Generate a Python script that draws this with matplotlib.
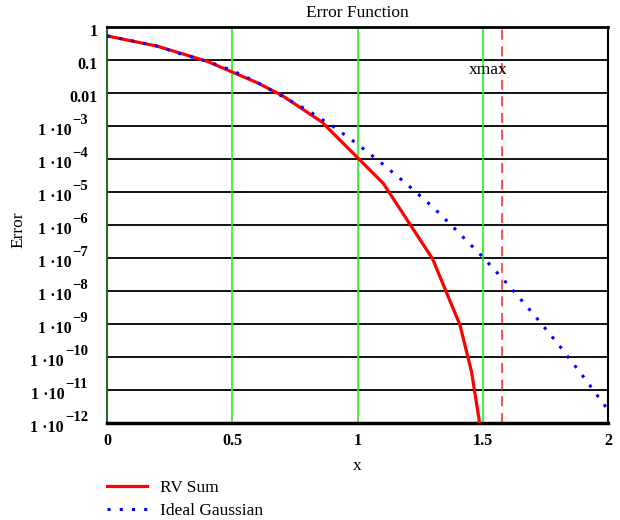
import matplotlib
matplotlib.use("Agg")
import matplotlib.pyplot as plt
import numpy as np

# Data (log10 of error)
rv_x = [0.0, 0.2, 0.4, 0.6, 0.7, 0.858, 1.103, 1.30, 1.409, 1.455, 1.50]
rv_log = [-0.27, -0.58, -1.04, -1.69, -2.08, -2.88, -4.74, -7.03, -9.03, -10.44, -12.6]

g_x = [0.0, 0.1, 0.2, 0.3, 0.4, 0.5, 0.6, 0.7, 0.8, 0.9, 1.0, 1.1, 1.2, 1.3, 1.4,
       1.5, 1.6, 1.7, 1.8, 1.9, 2.0]
g_log = [-0.27, -0.42, -0.58, -0.83, -1.04, -1.32, -1.68, -2.1, -2.52, -3.0, -3.55,
         -4.15, -4.78, -5.45, -6.2, -6.97, -7.8, -8.68, -9.6, -10.58, -11.6]

green_lines = [0.5, 1.0, 1.5]
xmax = 1.575
x_ticks = [0, 0.5, 1, 1.5, 2]
x_tick_labels = ["0", "0.5", "1", "1.5", "2"]
y_exps = list(range(0, -13, -1))
y_plain_labels = {0: "1", -1: "0.1", -2: "0.01"}

plt.rcParams['font.family'] = ['Liberation Serif', 'DejaVu Serif']

fig = plt.figure(figsize=(6.2, 5.2), dpi=100)
ax = fig.add_axes([107/620, 1-423/520, (608-107)/620, (423-27)/520])

ax.set_yscale('log')
ax.set_xlim(0, 2)
ax.set_ylim(1e-12, 1)

for e in y_exps:
    ax.axhline(10.0**e, color='black', lw=1.3, zorder=1)
for gx in green_lines:
    ax.axvline(gx, color='#22ee22', lw=1.2, zorder=1)
ax.axvline(xmax, color='#ff3333', lw=1.2, ls=(0, (6, 4)), zorder=1)
ax.text(1.52, 10**-1.3, "xmax", ha='center', va='center', fontsize=12.5)

ax.plot(rv_x, 10.0**np.array(rv_log), color='#ff0000', lw=2.3, label='RV Sum', zorder=3)
ax.plot(g_x, 10.0**np.array(g_log), color='#0000ff', lw=2.2, ls=(0, (1, 3)),
        label='Ideal Gaussian', zorder=4)

ax.set_xticks(x_ticks)
ax.set_xticklabels(x_tick_labels, fontweight='bold', fontsize=11.5)
ax.set_yticks([])
ax.minorticks_off()
ax.tick_params(axis='both', length=0, pad=7)

renderer = fig.canvas.get_renderer()
for e in y_exps:
    yv = 10.0**e
    if e in y_plain_labels:
        ax.annotate(y_plain_labels[e], xy=(0, yv), xycoords=('axes fraction', 'data'),
                    xytext=(-9, -9), textcoords='offset pixels', ha='right', va='baseline',
                    fontsize=11.5, fontweight='bold', annotation_clip=False)
    else:
        t_exp = ax.annotate("\u2212%d" % (-e), xy=(0, yv), xycoords=('axes fraction', 'data'),
                            xytext=(-19, 2), textcoords='offset pixels', ha='right',
                            va='baseline', fontsize=10.5, fontweight='bold',
                            annotation_clip=False)
        w = t_exp.get_window_extent(renderer).width
        ax.annotate("1 \u00b710", xy=(0, yv), xycoords=('axes fraction', 'data'),
                    xytext=(-19 - w - 1, -9), textcoords='offset pixels', ha='right',
                    va='baseline', fontsize=11.5, fontweight='bold', annotation_clip=False)

for s in ['top', 'right']:
    ax.spines[s].set_color('black')
ax.spines['top'].set_linewidth(2)
ax.spines['right'].set_linewidth(1.5)
ax.spines['bottom'].set_linewidth(2.5)
ax.spines['left'].set_color('#2a6a2a')
ax.spines['left'].set_linewidth(1.5)

fig.text(357/620, 1-13/520, "Error Function", ha='center', va='center', fontsize=12.5)
fig.text(357/620, 1-466/520, "x", ha='center', va='center', fontsize=12.5)
fig.text(18/620, 1-230/520, "Error", ha='center', va='center', rotation=90, fontsize=12.5)

leg = fig.legend(loc='upper left', bbox_to_anchor=(107/620, 1-480/520), frameon=False,
                 fontsize=12.5, handlelength=2.3, handletextpad=0.75, labelspacing=0.38,
                 borderpad=0, borderaxespad=0)

fig.savefig("out.png", dpi=100)
